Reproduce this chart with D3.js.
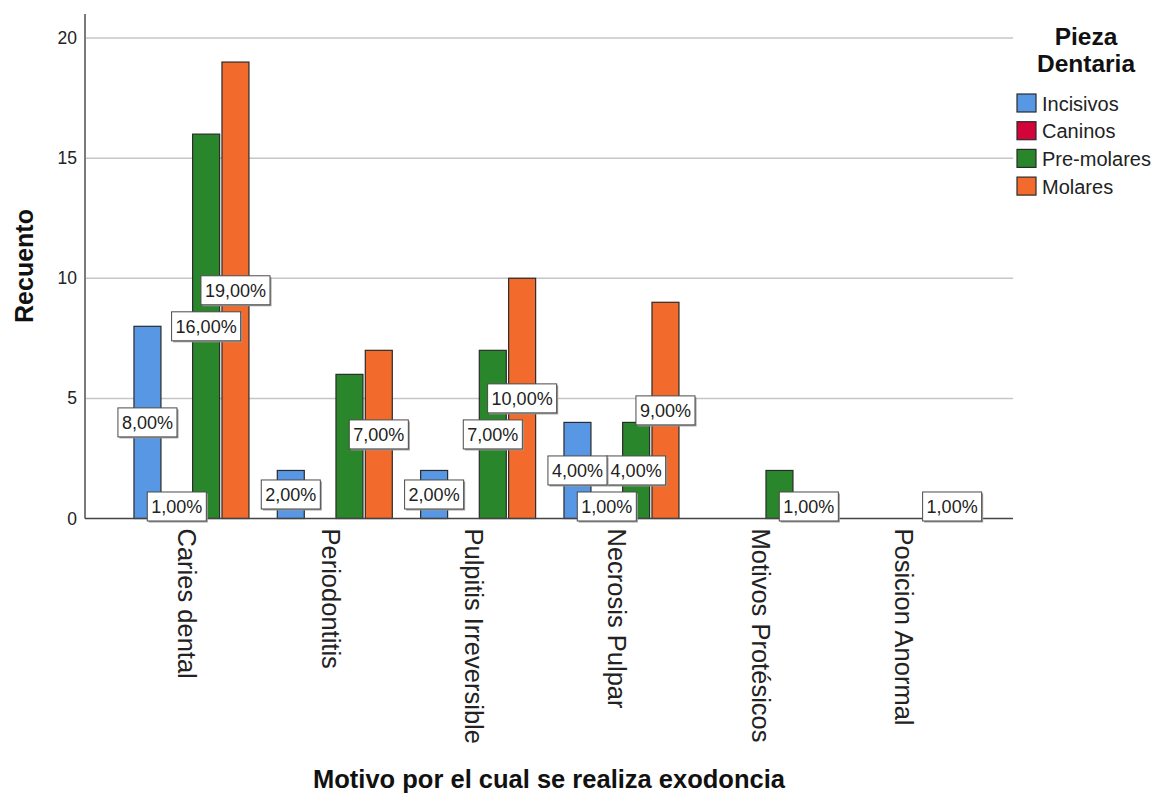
<!DOCTYPE html>
<html>
<head>
<meta charset="utf-8">
<script src="https://cdn.jsdelivr.net/npm/d3@7"></script>
<style>
  html, body { margin: 0; padding: 0; background: #fff; }
  svg { display: block; font-family: "Liberation Sans", Arial, sans-serif; }
</style>
</head>
<body>
<svg id="chart" width="1158" height="794"></svg>
<script>
// Extraction reasons (x axis) and tooth types (series)
const categories = ["Caries dental", "Periodontitis", "Pulpitis Irreversible", "Necrosis Pulpar", "Motivos Protésicos", "Posicion Anormal"];
const seriesNames = ["Incisivos", "Caninos", "Pre-molares", "Molares"];
const incisivos  = [8, 2, 2, 4, 0, 0];
const caninos    = [1, 0, 0, 1, 0, 0];
const preMolares = [16, 6, 7, 4, 2, 0];
const molares    = [19, 7, 10, 9, 1, 1];
const yTicks = [0, 5, 10, 15, 20];
const seriesColors = ["#5897e3", "#d3043a", "#2a862a", "#f36b2c"];

const seriesValues = [incisivos, caninos, preMolares, molares];
const total = d3.sum(seriesValues.flat());

const svg = d3.select("#chart");

const plotLeft = 85, plotRight = 1013, plotTop = 14, plotBottom = 518.5;

const y = d3.scaleLinear().domain([0, 21]).range([plotBottom, plotTop]);
const x0 = d3.scaleBand().domain(categories).range([119.8, 979.8])
  .paddingInner(0.1977).paddingOuter(0.0988);
const x1 = d3.scaleBand().domain(seriesNames).range([0, x0.bandwidth()]).paddingInner(0.08);
const color = d3.scaleOrdinal().domain(seriesNames).range(seriesColors);

// Gridlines
svg.append("g")
  .selectAll("line")
  .data(yTicks.filter(t => t > 0))
  .join("line")
  .attr("x1", plotLeft).attr("x2", plotRight)
  .attr("y1", d => y(d)).attr("y2", d => y(d))
  .attr("stroke", "#c6c6c6").attr("stroke-width", 1.5);

// Y axis
const yAxis = svg.append("g")
  .attr("transform", `translate(${plotLeft},0)`)
  .call(d3.axisLeft(y).tickValues(yTicks).tickSize(0).tickPadding(8).tickFormat(d3.format("d")));
yAxis.select(".domain").remove();
yAxis.selectAll("text").attr("font-size", 17.5).attr("fill", "#222")
  .attr("font-family", "Liberation Sans, Arial, sans-serif");
svg.append("line")
  .attr("x1", plotLeft).attr("x2", plotLeft).attr("y1", plotTop).attr("y2", plotBottom)
  .attr("stroke", "#7a7a7a").attr("stroke-width", 2);

// Bars
const barData = [];
categories.forEach((c, ci) => {
  seriesNames.forEach((s, si) => {
    barData.push({ cat: c, series: s, si, value: seriesValues[si][ci] });
  });
});

svg.append("g")
  .selectAll("rect")
  .data(barData.filter(d => d.value > 0))
  .join("rect")
  .attr("x", d => x0(d.cat) + x1(d.series))
  .attr("y", d => y(d.value))
  .attr("width", x1.bandwidth())
  .attr("height", d => y(0) - y(d.value))
  .attr("fill", d => color(d.series))
  .attr("stroke", "#2b2b2b").attr("stroke-width", 1.2);

// X axis line
svg.append("line")
  .attr("x1", plotLeft).attr("x2", plotRight).attr("y1", plotBottom).attr("y2", plotBottom)
  .attr("stroke", "#444").attr("stroke-width", 1.5);

// X category labels, rotated
svg.append("g")
  .selectAll("text")
  .data(categories)
  .join("text")
  .attr("transform", d => `translate(${x0(d) + x0.bandwidth() / 2 - 13},${plotBottom + 10}) rotate(90)`)
  .attr("text-anchor", "start")
  .attr("font-size", 25.5)
  .attr("fill", "#222")
  .text(d => d);

// Percentage labels at bar midpoints; later series take precedence on overlap
const fmt = v => (v / total * 100).toFixed(2).replace(".", ",") + "%";
const labelFont = 18, boxH = 29, padX = 4;
const measure = svg.append("text").attr("font-size", labelFont).attr("visibility", "hidden");
const placed = [];
const labels = [];
barData.filter(d => d.value > 0).slice().sort((a, b) => b.si - a.si).forEach(d => {
  const text = fmt(d.value);
  measure.text(text);
  const w = measure.node().getComputedTextLength() + padX * 2;
  const cx = x0(d.cat) + x1(d.series) + x1.bandwidth() / 2;
  const cy = (y(0) + y(d.value)) / 2;
  const box = { x: cx - w / 2, y: cy - boxH / 2, w, h: boxH };
  const hit = placed.some(p => box.x < p.x + p.w - 1 && p.x < box.x + box.w - 1 && box.y < p.y + p.h - 1 && p.y < box.y + box.h - 1);
  if (!hit) { placed.push(box); labels.push({ text, cx, cy, box }); }
});
measure.remove();

const lg = svg.append("g").selectAll("g").data(labels).join("g");
lg.append("rect")
  .attr("x", d => d.box.x + 1.5).attr("y", d => d.box.y + 1.5)
  .attr("width", d => d.box.w).attr("height", d => d.box.h)
  .attr("fill", "#9a9a9a");
lg.append("rect")
  .attr("x", d => d.box.x).attr("y", d => d.box.y)
  .attr("width", d => d.box.w).attr("height", d => d.box.h)
  .attr("fill", "#fff").attr("stroke", "#4a4a4a").attr("stroke-width", 1);
lg.append("text")
  .attr("x", d => d.cx).attr("y", d => d.cy + 6.5)
  .attr("text-anchor", "middle")
  .attr("font-size", labelFont).attr("fill", "#222")
  .text(d => d.text);

// Axis titles
svg.append("text")
  .attr("transform", `translate(33,266) rotate(-90)`)
  .attr("text-anchor", "middle")
  .attr("font-size", 25).attr("font-weight", "bold").attr("fill", "#111")
  .text("Recuento");
svg.append("text")
  .attr("x", 549).attr("y", 788)
  .attr("text-anchor", "middle")
  .attr("font-size", 25.5).attr("font-weight", "bold").attr("fill", "#111")
  .text("Motivo por el cual se realiza exodoncia");

// Legend
const legend = svg.append("g");
legend.append("text")
  .attr("x", 1086).attr("y", 45)
  .attr("text-anchor", "middle").attr("font-size", 24.5).attr("font-weight", "bold").attr("fill", "#111")
  .text("Pieza");
legend.append("text")
  .attr("x", 1086).attr("y", 72)
  .attr("text-anchor", "middle").attr("font-size", 24.5).attr("font-weight", "bold").attr("fill", "#111")
  .text("Dentaria");
const items = legend.selectAll("g.item").data(seriesNames).join("g")
  .attr("class", "item")
  .attr("transform", (d, i) => `translate(1017,${94 + i * 27.7})`);
items.append("rect")
  .attr("width", 19).attr("height", 18)
  .attr("fill", d => color(d)).attr("stroke", "#2b2b2b").attr("stroke-width", 1.2);
items.append("text")
  .attr("x", 25).attr("y", 16.5)
  .attr("font-size", 20).attr("fill", "#222")
  .text(d => d);
</script>
</body>
</html>
